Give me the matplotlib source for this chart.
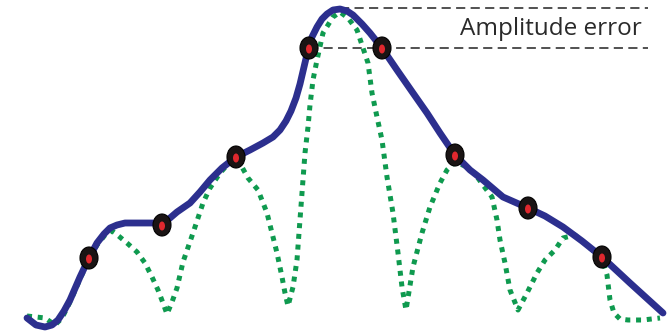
import matplotlib
matplotlib.use("Agg")
import matplotlib.pyplot as plt
from matplotlib.patches import Ellipse

# continuous signal (blue), picture coordinates, y grows downwards
signal_x = [27, 36, 45, 52, 58, 64, 70, 80, 89, 97, 104, 110, 117, 125, 140, 153,
            162, 170, 177, 190, 200, 210, 222, 236, 250, 263, 273, 280, 286, 291,
            296, 300, 304, 308, 312, 317, 322, 327, 333, 340, 347, 353, 362, 370,
            382, 397, 413, 427, 440, 455, 470, 483, 503, 528, 545, 563, 582, 602,
            630, 663]
signal_y = [318, 325, 327, 325, 320, 311, 300, 277, 258, 243, 234, 228, 225, 223,
            223, 223, 225, 218, 212, 203, 192, 180, 168, 157, 150, 143, 137, 130,
            121, 111, 98, 84, 67, 50, 37, 27, 19, 14, 10, 9, 11, 15, 24, 33, 48,
            70, 93, 113, 133, 155, 170, 180, 197, 208, 216, 227, 241, 257, 283,
            313]

# rectified sampled response (green dotted)
resp_x = [27, 45, 55, 62, 70, 80, 89, 97, 105, 112, 115, 127, 137, 145, 152, 158,
          163, 167, 172, 177, 183, 193, 203, 210, 220, 230, 237, 248, 258, 267,
          272, 277, 282, 285, 288, 293, 297, 299, 302, 305, 308, 310, 313, 317,
          323, 333, 340, 348, 357, 368, 372, 377, 382, 387, 393, 398, 402, 406,
          413, 422, 430, 440, 447, 455, 465, 475, 483, 492, 497, 500, 505, 510,
          518, 527, 537, 545, 555, 563, 575, 590, 602, 607, 610, 614, 620, 628,
          643, 660]
resp_y = [316, 318, 325, 318, 302, 279, 259, 245, 235, 231, 233, 243, 252, 263,
          277, 290, 303, 314, 302, 288, 262, 233, 203, 188, 173, 162, 158, 178,
          190, 213, 233, 253, 277, 293, 306, 287, 260, 233, 193, 153, 127, 105,
          80, 60, 33, 17, 12, 18, 30, 63, 93, 117, 140, 177, 213, 253, 287, 310,
          267, 233, 207, 183, 170, 162, 166, 174, 185, 197, 220, 240, 263, 290,
          310, 293, 273, 260, 250, 238, 235, 248, 258, 275, 300, 313, 319, 320,
          320, 318]

# sample points
sample_x = [89, 162, 236, 309, 382, 455, 528, 602]
sample_y = [258, 225, 157, 48, 48, 155, 208, 257]

label = "Amplitude error"

fig = plt.figure(figsize=(6.67, 3.31), dpi=100)
ax = fig.add_axes([0, 0, 1, 1])
ax.set_xlim(0, 667)
ax.set_ylim(331, 0)
ax.axis("off")

ax.plot(resp_x, resp_y, color="#0f9a4f", lw=3.6, dashes=(1.0, 1.15),
        dash_capstyle="butt", zorder=2)
ax.plot(signal_x, signal_y, color="#2c2f8e", lw=4.9, solid_capstyle="round",
        solid_joinstyle="round", zorder=3)

# reference lines: true peak and highest sample
peak_i = signal_y.index(min(signal_y))
ax.hlines(signal_y[peak_i] - 1, signal_x[peak_i], 648,
          color="#222222", lw=1.1, linestyles=(0, (6, 3.5)), zorder=1)
ax.hlines(max(sample_y[3], sample_y[4]), sample_x[3], 648,
          color="#222222", lw=1.1, linestyles=(0, (6, 3.5)), zorder=1)

for sx, sy in zip(sample_x, sample_y):
    ax.add_patch(Ellipse((sx, sy), 18, 22, facecolor="#1a1414",
                         edgecolor="#000000", lw=0.8, zorder=4))
    ax.add_patch(Ellipse((sx, sy + 1), 6, 9, facecolor="#e0282e",
                         edgecolor="none", zorder=5))

ax.text(642, 35, label, ha="right", va="baseline", fontsize=17.5,
        family="Open Sans", color="#2a2a2a")

fig.savefig("out.png", dpi=100)
